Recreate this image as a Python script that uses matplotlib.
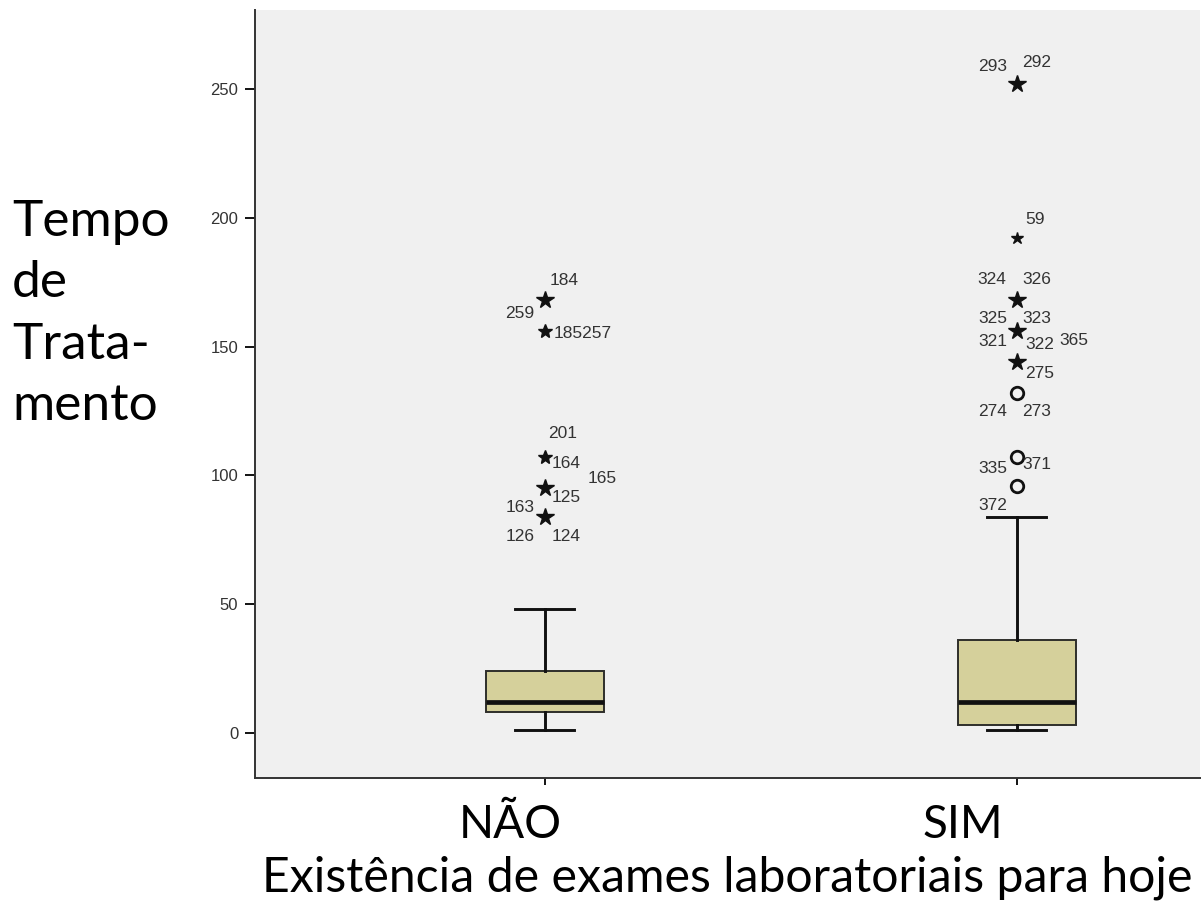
import matplotlib
matplotlib.use("Agg")
import matplotlib.pyplot as plt
import matplotlib.transforms as mtransforms

# dados
grupos = ["NÃO", "SIM"]
whis_lo = [1, 1]
q1 = [8, 3]
mediana = [12, 12]
q3 = [24, 36]
whis_hi = [48, 84]

# outliers: (grupo, valor, tipo) tipo '*' = extremo, 'o' = moderado
out_grupo = [0, 0, 0, 0, 0, 1, 1, 1, 1, 1, 1, 1, 1]
out_valor = [168, 156, 107, 95, 84, 252, 192, 168, 156, 144, 132, 107, 96]
out_tipo = ["*", "*", "*", "*", "*", "*", "*", "*", "*", "*", "o", "o", "o"]
out_rotulos = [
    ["184", "259"], ["185257"], ["201", "164"], ["125", "163", "165"], ["126", "124"],
    ["293", "292"], ["59"], ["324", "326"], ["325", "323", "321", "322", "365"], ["275"],
    ["274", "273"], ["335", "371"], ["372"],
]

# deslocamento dos rótulos (pixels) e tamanho dos marcadores
desloc = [
    [(19, 20), (-25, -13)], [(38, -2)], [(18, 24), (21, -6)], [(21, -9), (-25, -19), (57, 10)],
    [(-25, -20), (21, -20)],
    [(-24, 17), (20, 21)], [(18, 19)], [(-25, 21), (20, 21)],
    [(-24, 13), (20, 13), (-24, -10), (23, -13), (57, -9)], [(23, -11)],
    [(-24, -19), (20, -19)], [(-24, -11), (20, -7)], [(-24, -20)],
]
tam_marc = [13, 10, 10, 13, 13, 13, 9, 13, 13, 13, 9, 9, 9]

fig = plt.figure(figsize=(12.03, 9.06), dpi=100)
ax = fig.add_axes([255 / 1203, 128 / 906, 945 / 1203, 768 / 906])
ax.set_facecolor("#f0f0f0")

stats = []
for i in range(len(grupos)):
    stats.append({"whislo": whis_lo[i], "q1": q1[i], "med": mediana[i],
                  "q3": q3[i], "whishi": whis_hi[i], "fliers": []})

ax.bxp(stats, positions=[0, 1], widths=0.25, capwidths=0.125, patch_artist=True,
       showfliers=False,
       boxprops=dict(facecolor="#d5d09b", edgecolor="#2e2e2a", linewidth=1.4),
       medianprops=dict(color="#111111", linewidth=3.4),
       whiskerprops=dict(color="#111111", linewidth=2.1),
       capprops=dict(color="#111111", linewidth=2.1))

for g, v, t, labs, offs, ms in zip(out_grupo, out_valor, out_tipo, out_rotulos, desloc, tam_marc):
    if t == "*":
        ax.plot(g, v, marker="*", color="#111111", markersize=ms, linestyle="none")
    else:
        ax.plot(g, v, marker="o", markerfacecolor="none", markeredgecolor="#111111",
                markeredgewidth=2.0, markersize=ms, linestyle="none")
    for lab, (dx, dy) in zip(labs, offs):
        ax.annotate(lab, xy=(g, v), xytext=(dx, dy), textcoords="offset pixels",
                    ha="center", va="center", fontsize=12.5, color="#333333",
                    family="Liberation Sans")

ax.set_xlim(-0.614, 1.388)
ax.set_ylim(-17.5, 280.7)
ax.set_yticks([0, 50, 100, 150, 200, 250])
ax.tick_params(axis="y", length=7, width=1.3, pad=5, labelsize=12, labelcolor="#333333")
ax.tick_params(axis="x", length=5, width=1.3, pad=14, labelsize=33)
for lab in ax.get_yticklabels():
    lab.set_family("Liberation Sans")

ax.set_xticks([0, 1])
ax.set_xticklabels(grupos, family="Lato")
for lab, dx in zip(ax.get_xticklabels(), [-35, -54]):
    lab.set_transform(lab.get_transform() + mtransforms.ScaledTranslation(dx / 100, 0, fig.dpi_scale_trans))

ax.spines["top"].set_visible(False)
ax.spines["right"].set_visible(False)
ax.spines["left"].set_linewidth(1.4)
ax.spines["bottom"].set_linewidth(1.4)
ax.spines["left"].set_color("#333333")
ax.spines["bottom"].set_color("#333333")

ax.set_xlabel("Existência de exames laboratoriais para hoje", fontsize=34.7, family="Lato")
ax.xaxis.set_label_coords(0.5, -0.130)
ax.xaxis.label.set_va("center")

fig.text(12 / 1203, 1 - 314 / 906, "Tempo\nde\nTrata-\nmento", fontsize=37, family="Lato",
         ha="left", va="center", linespacing=1.42)

fig.savefig("out.png", dpi=100)
